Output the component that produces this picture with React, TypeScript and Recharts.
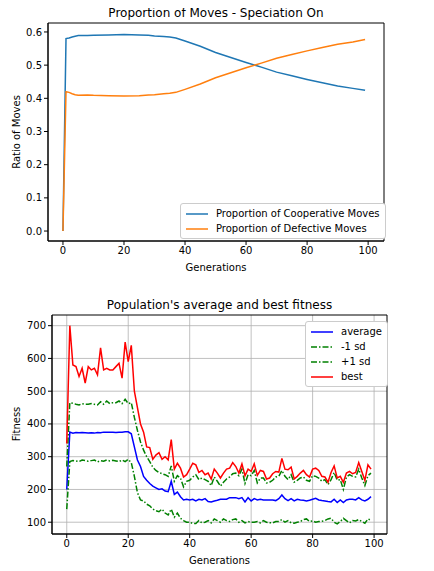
import {
  CartesianGrid,
  Line,
  LineChart,
  ReferenceArea,
  XAxis,
  YAxis,
} from "recharts";

const moveGens = [0, 1, 2, 3, 4, 5, 8, 10, 15, 20, 25, 28, 30, 33, 35, 37, 40, 45, 50, 55, 60, 65, 70, 75, 80, 85, 90, 95, 99];
const coopMoves = [0, 0.58, 0.582, 0.585, 0.587, 0.589, 0.589, 0.59, 0.591, 0.592, 0.591, 0.59, 0.588, 0.586, 0.585, 0.582, 0.573, 0.557, 0.538, 0.523, 0.508, 0.494, 0.479, 0.468, 0.457, 0.447, 0.437, 0.43, 0.424];
const defectMoves = [0, 0.42, 0.418, 0.414, 0.411, 0.409, 0.41, 0.409, 0.408, 0.407, 0.408, 0.41, 0.411, 0.414, 0.415, 0.418, 0.427, 0.443, 0.462, 0.477, 0.492, 0.506, 0.521, 0.532, 0.543, 0.553, 0.563, 0.57, 0.577];

const average = [200, 375, 372, 374, 373, 374, 373, 372, 373, 372, 374, 373, 375, 375, 375, 375, 374, 375, 375, 376, 376, 370, 330, 290, 270, 240, 228, 218, 210, 205, 200, 202, 195, 193, 225, 185, 192, 178, 168, 170, 168, 170, 165, 170, 168, 172, 163, 162, 165, 167, 170, 170, 170, 175, 175, 175, 172, 175, 162, 175, 165, 172, 168, 170, 168, 168, 168, 168, 166, 172, 183, 172, 166, 172, 165, 170, 168, 167, 165, 167, 170, 173, 168, 166, 165, 163, 162, 170, 160, 168, 160, 168, 170, 170, 168, 175, 168, 165, 170, 178];
const best = [340, 700, 580, 575, 545, 570, 525, 575, 565, 570, 550, 632, 565, 570, 565, 565, 575, 585, 540, 650, 590, 640, 500, 450, 400, 375, 330, 328, 292, 305, 312, 292, 300, 290, 352, 262, 280, 265, 238, 245, 262, 280, 275, 252, 258, 245, 250, 232, 262, 250, 235, 250, 262, 265, 282, 270, 250, 278, 242, 262, 255, 278, 243, 258, 255, 232, 235, 248, 255, 253, 295, 262, 260, 268, 232, 240, 250, 258, 245, 238, 262, 265, 258, 240, 238, 222, 252, 272, 235, 240, 222, 250, 255, 248, 252, 282, 255, 228, 275, 262];
const plusSd = [270, 465, 463, 460, 458, 462, 460, 460, 462, 460, 458, 468, 460, 470, 462, 465, 465, 470, 462, 475, 462, 465, 420, 380, 345, 320, 300, 285, 268, 258, 252, 248, 245, 240, 272, 225, 242, 235, 208, 225, 228, 238, 245, 230, 235, 230, 225, 212, 238, 225, 210, 222, 232, 238, 248, 250, 242, 262, 218, 245, 242, 258, 220, 235, 235, 220, 222, 228, 238, 240, 258, 240, 230, 245, 222, 228, 235, 238, 228, 225, 242, 240, 235, 225, 230, 215, 230, 252, 228, 230, 200, 238, 245, 240, 238, 262, 235, 212, 242, 250];
const minusSd = [140, 285, 288, 287, 285, 290, 288, 286, 288, 290, 284, 288, 286, 290, 287, 289, 287, 285, 290, 285, 292, 282, 240, 190, 168, 165, 155, 150, 140, 135, 132, 140, 128, 122, 140, 115, 128, 112, 105, 100, 100, 96, 96, 105, 98, 100, 105, 98, 110, 105, 100, 110, 105, 102, 108, 110, 100, 105, 98, 102, 100, 100, 102, 98, 105, 100, 98, 98, 102, 102, 108, 100, 105, 98, 97, 100, 102, 108, 110, 102, 104, 100, 102, 103, 105, 110, 112, 100, 95, 102, 112, 105, 98, 105, 104, 108, 102, 97, 110, 106];

const xTicks = [0, 20, 40, 60, 80, 100];
const moveTicks = [0, 0.1, 0.2, 0.3, 0.4, 0.5, 0.6];
const fitTicks = [100, 200, 300, 400, 500, 600, 700];

const font = "'DejaVu Sans', sans-serif";
const tick = { fill: "#000", fontSize: 10, fontFamily: font };
const dashDot = "6 2 1.5 2";

const movesData = moveGens.map((g, i) => ({ g, coop: coopMoves[i], defect: defectMoves[i] }));
const fitData = average.map((a, i) => ({ g: i, average: a, minus: minusSd[i], plus: plusSd[i], best: best[i] }));

function LegendBox({ items, style }: { items: { name: string; color: string; dash?: string }[]; style: any }) {
  return (
    <div style={{ position: "absolute", background: "#fff", border: "1px solid #ccc", borderRadius: 3, fontFamily: font, fontSize: 10, padding: "2px 5px", whiteSpace: "nowrap", ...style }}>
      {items.map((it) => (
        <div key={it.name} style={{ display: "flex", alignItems: "center", height: 15 }}>
          <svg width={22} height={6} style={{ marginRight: 8 }}>
            <line x1={0} y1={3} x2={22} y2={3} stroke={it.color} strokeWidth={1.5} strokeDasharray={it.dash} />
          </svg>
          {it.name}
        </div>
      ))}
    </div>
  );
}

function VLabel({ text, x, y }: { text: string; x: number; y: number }) {
  return (
    <div style={{ position: "absolute", left: x, top: y, transform: "translate(-50%, -50%) rotate(-90deg)", fontFamily: font, fontSize: 10, whiteSpace: "nowrap" }}>
      {text}
    </div>
  );
}

export default function App() {
  return (
    <div style={{ position: "relative", margin: "-8px 0 0 -8px", width: 434, height: 571, background: "#fff" }}>
      <div style={{ position: "absolute", top: 6, left: 48, width: 336, textAlign: "center", fontFamily: font, fontSize: 12 }}>
        Proportion of Moves - Speciation On
      </div>
      <div style={{ position: "absolute", top: 0, left: 0 }}>
        <LineChart width={434} height={290} data={movesData} margin={{ top: 23, right: 50, bottom: 20, left: 8 }}>
          <XAxis dataKey="g" type="number" domain={[-4.9, 105.2]} ticks={xTicks} tick={tick} tickSize={4} stroke="#000" height={29} allowDataOverflow
            label={{ value: "Generations", position: "insideBottom", offset: -1, fontSize: 10, fontFamily: font, fill: "#000" }} />
          <YAxis type="number" domain={[-0.03, 0.627]} ticks={moveTicks} tickFormatter={(v) => v.toFixed(1)} tick={tick} tickSize={4} stroke="#000" width={40} allowDataOverflow />
          <ReferenceArea x1={-4.9} x2={105.2} y1={-0.03} y2={0.627} fill="none" stroke="#000" strokeWidth={1} />
          <Line dataKey="coop" stroke="#1f77b4" strokeWidth={1.5} dot={false} isAnimationActive={false} />
          <Line dataKey="defect" stroke="#ff7f0e" strokeWidth={1.5} dot={false} isAnimationActive={false} />
        </LineChart>
      </div>
      <VLabel text="Ratio of Moves" x={16} y={132} />
      <LegendBox style={{ left: 180, top: 203 }} items={[
        { name: "Proportion of Cooperative Moves", color: "#1f77b4" },
        { name: "Proportion of Defective Moves", color: "#ff7f0e" },
      ]} />

      <div style={{ position: "absolute", top: 298, left: 52, width: 335, textAlign: "center", fontFamily: font, fontSize: 12 }}>
        Population's average and best fitness
      </div>
      <div style={{ position: "absolute", top: 290, left: 0 }}>
        <LineChart width={434} height={281} data={fitData} margin={{ top: 25, right: 47, bottom: 8, left: 12 }}>
          <CartesianGrid stroke="#b0b0b0" strokeWidth={0.8} horizontalValues={fitTicks} verticalValues={xTicks} />
          <XAxis dataKey="g" type="number" domain={[-4.8, 104.2]} ticks={xTicks} tick={tick} tickSize={4} stroke="#000" height={29} allowDataOverflow
            label={{ value: "Generations", position: "insideBottom", offset: -1, fontSize: 10, fontFamily: font, fill: "#000" }} />
          <YAxis type="number" domain={[64, 732.6]} ticks={fitTicks} tick={tick} tickSize={4} stroke="#000" width={40} allowDataOverflow />
          <ReferenceArea x1={-4.8} x2={104.2} y1={64} y2={732.6} fill="none" stroke="#000" strokeWidth={1} />
          <Line dataKey="average" stroke="#0000ff" strokeWidth={1.5} dot={false} isAnimationActive={false} />
          <Line dataKey="minus" stroke="#008000" strokeWidth={1.5} strokeDasharray={dashDot} dot={false} isAnimationActive={false} />
          <Line dataKey="plus" stroke="#008000" strokeWidth={1.5} strokeDasharray={dashDot} dot={false} isAnimationActive={false} />
          <Line dataKey="best" stroke="#ff0000" strokeWidth={1.5} dot={false} isAnimationActive={false} />
        </LineChart>
      </div>
      <VLabel text="Fitness" x={16} y={424} />
      <LegendBox style={{ left: 305, top: 321 }} items={[
        { name: "average", color: "#0000ff" },
        { name: "-1 sd", color: "#008000", dash: dashDot },
        { name: "+1 sd", color: "#008000", dash: dashDot },
        { name: "best", color: "#ff0000" },
      ]} />
    </div>
  );
}
